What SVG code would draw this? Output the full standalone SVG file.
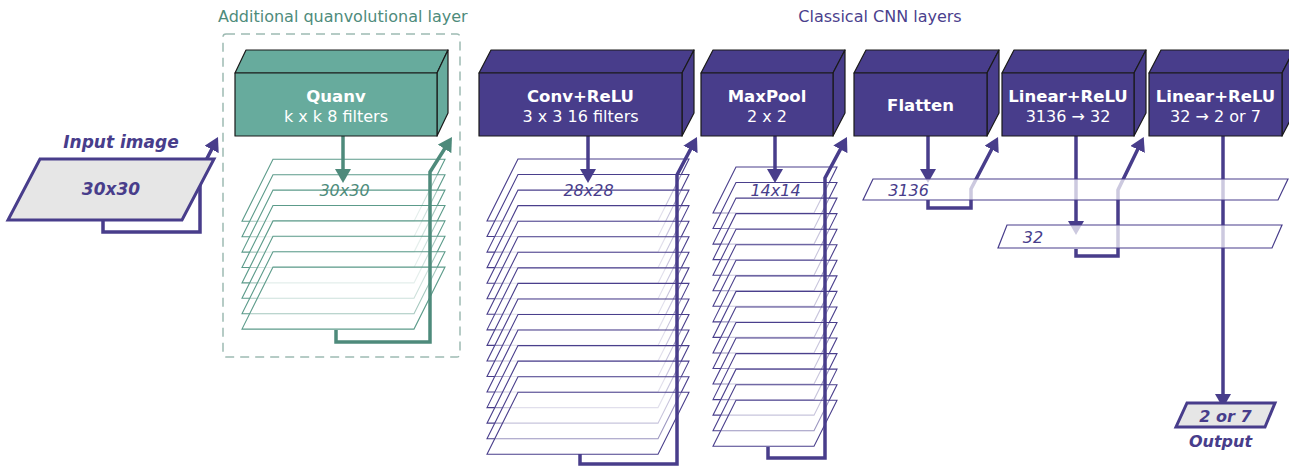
<svg xmlns="http://www.w3.org/2000/svg" width="1289" height="466" viewBox="0 0 1289 466">
<style>
text{font-family:"DejaVu Sans","Liberation Sans",sans-serif}
.hdr{font-size:16px}
.t{font-size:16.5px;font-weight:bold;fill:#fff;text-anchor:middle}
.s{font-size:16px;fill:#fff;text-anchor:middle}
.box{stroke:#1a1a1a;stroke-width:1.2;stroke-linejoin:round}
.bp{fill:#483d8b}
.bt{fill:#67ab9d}
.pl{fill:#fff;fill-opacity:0.45;stroke-width:1.1}
.plp{stroke:#4a3f8c}
.plt{stroke:#5c9b8a}
.lin{fill:#fff;fill-opacity:0.72;stroke:#483d8b;stroke-width:1.2}
.lbl{font-size:16px;font-style:italic;text-anchor:middle}
.io{fill:#e6e6e6;stroke:#483d8b;stroke-width:3}
.ioT{font-size:17px;font-weight:bold;font-style:italic;fill:#483d8b;text-anchor:middle}
.cp{fill:none;stroke:#483d8b;stroke-width:3.5;marker-end:url(#ap)}
.ct{fill:none;stroke:#4e8a7b;stroke-width:3.5;marker-end:url(#at)}
</style>
<defs>
<marker id="ap" markerUnits="userSpaceOnUse" viewBox="0 0 14 16" markerWidth="14" markerHeight="16" refX="2" refY="8" orient="auto"><path d="M0,0 L14,8 L0,16 z" fill="#483d8b"/></marker>
<marker id="at" markerUnits="userSpaceOnUse" viewBox="0 0 14 16" markerWidth="14" markerHeight="16" refX="2" refY="8" orient="auto"><path d="M0,0 L14,8 L0,16 z" fill="#4e8a7b"/></marker>
</defs>

<text class="hdr" x="218" y="22" fill="#4e8b7b">Additional quanvolutional layer</text>
<text class="hdr" x="880" y="22" fill="#4b3f8d" text-anchor="middle">Classical CNN layers</text>
<rect x="223" y="34" width="237" height="323" rx="3" fill="none" stroke="#9dbab2" stroke-width="1.5" stroke-dasharray="9 6"/>

<g id="quanv-maps">
<polygon class="pl plt" points="273,159.3 445,159.3 414,221.3 242,221.3"/>
<polygon class="pl plt" points="273,174.7 445,174.7 414,236.7 242,236.7"/>
<polygon class="pl plt" points="273,190.1 445,190.1 414,252.1 242,252.1"/>
<polygon class="pl plt" points="273,205.5 445,205.5 414,267.5 242,267.5"/>
<polygon class="pl plt" points="273,220.9 445,220.9 414,282.9 242,282.9"/>
<polygon class="pl plt" points="273,236.3 445,236.3 414,298.3 242,298.3"/>
<polygon class="pl plt" points="273,251.7 445,251.7 414,313.7 242,313.7"/>
<polygon class="pl plt" points="273,267.1 445,267.1 414,329.1 242,329.1"/>
<text class="lbl" x="344.5" y="196" fill="#4e8b7b">30x30</text>
</g>

<g id="conv-maps">
<polygon class="pl plp" points="518,159 689,159 658,221 487,221"/>
<polygon class="pl plp" points="518,174.55 689,174.55 658,236.55 487,236.55"/>
<polygon class="pl plp" points="518,190.1 689,190.1 658,252.1 487,252.1"/>
<polygon class="pl plp" points="518,205.65 689,205.65 658,267.65 487,267.65"/>
<polygon class="pl plp" points="518,221.2 689,221.2 658,283.2 487,283.2"/>
<polygon class="pl plp" points="518,236.75 689,236.75 658,298.75 487,298.75"/>
<polygon class="pl plp" points="518,252.3 689,252.3 658,314.3 487,314.3"/>
<polygon class="pl plp" points="518,267.85 689,267.85 658,329.85 487,329.85"/>
<polygon class="pl plp" points="518,283.4 689,283.4 658,345.4 487,345.4"/>
<polygon class="pl plp" points="518,298.95 689,298.95 658,360.95 487,360.95"/>
<polygon class="pl plp" points="518,314.5 689,314.5 658,376.5 487,376.5"/>
<polygon class="pl plp" points="518,330.05 689,330.05 658,392.05 487,392.05"/>
<polygon class="pl plp" points="518,345.6 689,345.6 658,407.6 487,407.6"/>
<polygon class="pl plp" points="518,361.15 689,361.15 658,423.15 487,423.15"/>
<polygon class="pl plp" points="518,376.7 689,376.7 658,438.7 487,438.7"/>
<polygon class="pl plp" points="518,392.25 689,392.25 658,454.25 487,454.25"/>
<text class="lbl" x="588.5" y="196" fill="#483d8b">28x28</text>
</g>

<g id="maxpool-maps">
<polygon class="pl plp" points="736,167 837,167 814,213 713,213"/>
<polygon class="pl plp" points="736,182.55 837,182.55 814,228.55 713,228.55"/>
<polygon class="pl plp" points="736,198.1 837,198.1 814,244.1 713,244.1"/>
<polygon class="pl plp" points="736,213.65 837,213.65 814,259.65 713,259.65"/>
<polygon class="pl plp" points="736,229.2 837,229.2 814,275.2 713,275.2"/>
<polygon class="pl plp" points="736,244.75 837,244.75 814,290.75 713,290.75"/>
<polygon class="pl plp" points="736,260.3 837,260.3 814,306.3 713,306.3"/>
<polygon class="pl plp" points="736,275.85 837,275.85 814,321.85 713,321.85"/>
<polygon class="pl plp" points="736,291.4 837,291.4 814,337.4 713,337.4"/>
<polygon class="pl plp" points="736,306.95 837,306.95 814,352.95 713,352.95"/>
<polygon class="pl plp" points="736,322.5 837,322.5 814,368.5 713,368.5"/>
<polygon class="pl plp" points="736,338.05 837,338.05 814,384.05 713,384.05"/>
<polygon class="pl plp" points="736,353.6 837,353.6 814,399.6 713,399.6"/>
<polygon class="pl plp" points="736,369.15 837,369.15 814,415.15 713,415.15"/>
<polygon class="pl plp" points="736,384.7 837,384.7 814,430.7 713,430.7"/>
<polygon class="pl plp" points="736,400.25 837,400.25 814,446.25 713,446.25"/>
<text class="lbl" x="775.5" y="196" fill="#483d8b">14x14</text>
</g>

<g id="connectors">
<path class="cp" d="M103,220 V232 H200 V172 L212.5,147.7"/>
<path class="ct" d="M343,136 V171"/>
<path class="ct" d="M336,330 V342 H430 V172 L445.6,147.2"/>
<path class="cp" d="M588,136 V171"/>
<path class="cp" d="M580,454 V464 H677 V175 L691.4,147.6"/>
<path class="cp" d="M775,136 V171"/>
<path class="cp" d="M768,447 V458 H825 V178 L841.3,147.6"/>
<path class="cp" d="M928,136 V171"/>
<path class="cp" d="M928,200 V208 H971 V189 L992.5,147.7"/>
<path class="cp" d="M1076,136 V223"/>
<path class="cp" d="M1076,249 V256 H1118 V190 L1138.5,147.7"/>
<path class="cp" d="M1223,136 V396"/>
</g>

<g id="input">
<polygon class="io" points="40,159 214,159 182,220 8,220"/>
<text class="ioT" x="121" y="148">Input image</text>
<text class="ioT" x="111" y="195">30x30</text>
</g>

<g id="quanv">
<path class="box bt" d="M235,73 L246,50 L448,50 L437,73 Z"/>
<path class="box bt" d="M437,73 L448,50 L448,113 L437,136 Z"/>
<rect class="box bt" x="235" y="73" width="202" height="63"/>
<text class="t" x="336" y="102">Quanv</text>
<text class="s" x="336" y="122">k x k 8 filters</text>
</g>

<g id="conv">
<path class="box bp" d="M479,73 L491,50 L694,50 L682,73 Z"/>
<path class="box bp" d="M682,73 L694,50 L694,113 L682,136 Z"/>
<rect class="box bp" x="479" y="73" width="203" height="63"/>
<text class="t" x="580.5" y="102">Conv+ReLU</text>
<text class="s" x="580.5" y="122">3 x 3 16 filters</text>
</g>

<g id="maxpool">
<path class="box bp" d="M701,73 L713,50 L845,50 L833,73 Z"/>
<path class="box bp" d="M833,73 L845,50 L845,113 L833,136 Z"/>
<rect class="box bp" x="701" y="73" width="132" height="63"/>
<text class="t" x="767" y="102">MaxPool</text>
<text class="s" x="767" y="122">2 x 2</text>
</g>

<g id="flatten">
<path class="box bp" d="M854,73 L866,50 L999,50 L987,73 Z"/>
<path class="box bp" d="M987,73 L999,50 L999,113 L987,136 Z"/>
<rect class="box bp" x="854" y="73" width="133" height="63"/>
<text class="t" x="920.5" y="111">Flatten</text>
</g>

<g id="vec3136">
<polygon class="lin" points="873,179 1288,179 1278,200 863,200"/>
<text class="lbl" x="908.5" y="196" fill="#483d8b">3136</text>
</g>

<g id="linear1">
<path class="box bp" d="M1002,73 L1014,50 L1146,50 L1134,73 Z"/>
<path class="box bp" d="M1134,73 L1146,50 L1146,113 L1134,136 Z"/>
<rect class="box bp" x="1002" y="73" width="132" height="63"/>
<text class="t" x="1068" y="102">Linear+ReLU</text>
<text class="s" x="1068" y="122">3136 → 32</text>
</g>

<g id="vec32">
<polygon class="lin" points="1007,225 1282,225 1272,248 998,248"/>
<text class="lbl" x="1033" y="243" fill="#483d8b">32</text>
</g>

<g id="linear2">
<path class="box bp" d="M1149,73 L1161,50 L1294,50 L1282,73 Z"/>
<path class="box bp" d="M1282,73 L1294,50 L1294,113 L1282,136 Z"/>
<rect class="box bp" x="1149" y="73" width="133" height="63"/>
<text class="t" x="1215.5" y="102">Linear+ReLU</text>
<text class="s" x="1215.5" y="122">32 → 2 or 7</text>
</g>

<g id="output">
<polygon class="io" points="1187,403 1275,403 1265,427 1176,427"/>
<text class="ioT" x="1225.5" y="422" style="font-size:16px">2 or 7</text>
<text class="ioT" x="1220.5" y="447" style="font-size:16px">Output</text>
</g>
</svg>
